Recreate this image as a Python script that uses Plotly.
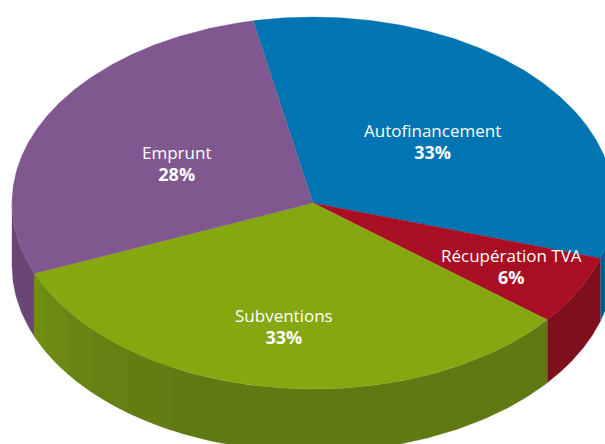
import numpy as np
import plotly.graph_objects as go

# --- data ---
labels = ["Autofinancement", "Récupération TVA", "Subventions", "Emprunt"]
shares = [33, 6, 33, 28]
top_colors = ["#0075b1", "#a90e24", "#85a710", "#80578f"]
wall_colors = ["#005f8e", "#7f0f1d", "#5f7913", "#6a4675"]

# --- drawing geometry (pixels of the 605x444 page) ---
W, H = 605, 444
CX, CY, RX, RY, DEPTH = 313, 203, 301, 186, 63
START = 101.5
LABEL_XY = [(432, 141), (511, 266), (284, 326), (176, 163)]
GREEN_EDGES_X = [36, 46, 68, 93, 128, 172]
GREEN_SHADES = ["#708d13", "#6d8913", "#698513", "#668113", "#637d13"]


def ex(t):
    return CX + RX * np.cos(np.radians(t))


def ey(t, drop=0.0):
    return CY - RY * np.sin(np.radians(t)) + drop


def poly(fig, xs, ys, color):
    fig.add_trace(go.Scatter(x=xs, y=ys, mode="lines", fill="toself", fillcolor=color,
                             line=dict(color=color, width=0.3), hoverinfo="skip", showlegend=False))


def wall(fig, t0, t1, color):
    """Side wall between angles t0 > t1, only where it faces the viewer (sin<0)."""
    ts = np.linspace(t0, t1, 160)
    ts = ts[np.sin(np.radians(ts)) <= 0]
    if len(ts) < 2:
        return
    xs = np.r_[ex(ts), ex(ts[::-1])]
    ys = np.r_[ey(ts), ey(ts[::-1], DEPTH)]
    poly(fig, xs, ys, color)


fig = go.Figure()
total = sum(shares)
edges = START - 360 * np.r_[0, np.cumsum(shares)] / total

# walls first, back to front
for i in [3, 0, 1, 2]:
    wall(fig, edges[i], edges[i + 1], wall_colors[i])

# facets on the left of the green wall
facet_t = [edges[3]] + [-np.degrees(np.arccos((x - CX) / RX)) for x in GREEN_EDGES_X[1:]]
for k in range(len(facet_t) - 1):
    wall(fig, facet_t[k + 1], facet_t[k], GREEN_SHADES[k])

# top faces
for i in range(len(shares)):
    ts = np.linspace(edges[i], edges[i + 1], 200)
    poly(fig, np.r_[CX, ex(ts), CX], np.r_[CY, ey(ts), CY], top_colors[i])

for name, val, (x, y) in zip(labels, shares, LABEL_XY):
    fig.add_annotation(x=x, y=y,
                       text=f"{name}<br><span style=\"font-size:18px\"><b>{val}%</b></span>",
                       showarrow=False,
                       font=dict(family="Open Sans", size=17, color="#ffffff"), align="center")

fig.update_layout(
    width=W, height=H, margin=dict(l=0, r=0, t=0, b=0),
    paper_bgcolor="white", plot_bgcolor="white", showlegend=False,
    xaxis=dict(range=[0, W], visible=False, fixedrange=True),
    yaxis=dict(range=[H, 0], visible=False, fixedrange=True),
)
fig.write_html("out.html", config={"displayModeBar": False},
               post_script="document.body.style.margin='0';document.documentElement.style.overflow='hidden';")
